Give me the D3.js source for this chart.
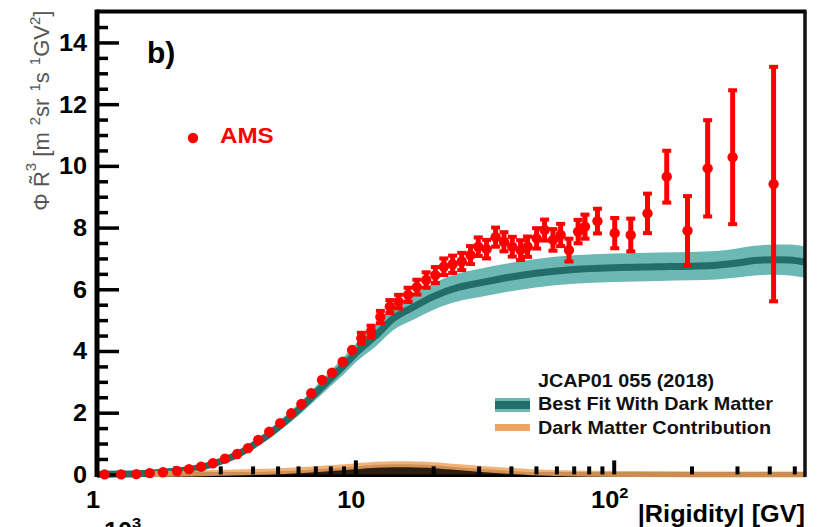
<!DOCTYPE html>
<html>
<head>
<meta charset="utf-8">
<script src="https://cdn.jsdelivr.net/npm/d3@7/dist/d3.min.js"></script>
<style>
  html, body { margin: 0; padding: 0; background: #fff; }
  svg { display: block; }
  text { font-family: "Liberation Sans", Arial, Helvetica, sans-serif; }
</style>
</head>
<body>
<svg id="chart" width="819" height="527"></svg>
<script>
// AMS measurement: rigidity bin centres [GV], flux x R^3 and its uncertainty
const ptsR = [1.07, 1.24, 1.42, 1.60, 1.80, 2.04, 2.27, 2.53, 2.81, 3.13, 3.49, 3.84, 4.21, 4.64, 5.12, 5.65,
  6.18, 6.75, 7.43, 8.12, 8.93, 9.71, 10.55, 11.5, 12.5, 13.6, 14.7, 16.0, 17.3, 18.8, 20.4, 22.0, 23.8, 25.8,
  27.9, 29.9, 32.2, 34.9, 37.6, 40.5, 43.6, 46.4, 50.3, 54.0, 58.2, 62.3, 67.1, 72.8, 77.4, 86.5, 100.9, 116.4,
  135.1, 160.4, 193, 231, 288.6, 415.7];
const ptsV = [0.00, 0.00, 0.01, 0.04, 0.07, 0.11, 0.17, 0.25, 0.36, 0.51, 0.66, 0.85, 1.12, 1.38, 1.66, 1.98,
  2.28, 2.63, 3.06, 3.30, 3.65, 4.03, 4.41, 4.63, 5.10, 5.44, 5.60, 5.82, 6.07, 6.30, 6.46, 6.73, 6.81, 6.90,
  7.11, 7.38, 7.30, 7.69, 7.54, 7.38, 7.27, 7.38, 7.65, 7.92, 7.60, 7.76, 7.27, 7.87, 8.03, 8.21, 7.82, 7.76,
  8.46, 9.65, 7.90, 9.92, 10.28, 9.41];
const ptsE = [0.02, 0.02, 0.02, 0.02, 0.02, 0.02, 0.02, 0.02, 0.02, 0.02, 0.02, 0.02, 0.02, 0.02, 0.02, 0.02,
  0.05, 0.06, 0.08, 0.10, 0.12, 0.14, 0.18, 0.19, 0.20, 0.21, 0.22, 0.23, 0.24, 0.25, 0.26, 0.27, 0.28, 0.28,
  0.29, 0.30, 0.30, 0.31, 0.31, 0.32, 0.32, 0.33, 0.33, 0.34, 0.35, 0.36, 0.37, 0.38, 0.39, 0.40, 0.49, 0.53,
  0.64, 0.84, 1.12, 1.56, 2.17, 3.80];

// Best fit with dark matter: central curve and uncertainty band
const fitR   = [1, 1.2, 1.5, 2, 2.5, 3, 3.5, 4, 4.5, 5, 6, 7, 8, 9, 10, 12, 14, 17, 20, 25, 30, 40, 50, 70, 100,
  150, 200, 250, 300, 350, 420, 480, 550];
const fitMid = [0, 0.01, 0.03, 0.10, 0.22, 0.42, 0.65, 0.93, 1.22, 1.52, 2.08, 2.62, 3.10, 3.52, 3.92, 4.50,
  5.05, 5.45, 5.76, 6.06, 6.20, 6.40, 6.52, 6.64, 6.70, 6.73, 6.75, 6.78, 6.85, 6.93, 6.96, 6.95, 6.88];
const fitLo  = [0, 0, 0, 0.06, 0.16, 0.34, 0.55, 0.81, 1.08, 1.36, 1.89, 2.40, 2.85, 3.24, 3.62, 4.15, 4.67,
  5.04, 5.33, 5.61, 5.74, 5.94, 6.06, 6.18, 6.24, 6.27, 6.29, 6.32, 6.38, 6.45, 6.47, 6.45, 6.38];
const fitHi  = [0.02, 0.03, 0.06, 0.14, 0.28, 0.50, 0.75, 1.05, 1.36, 1.68, 2.27, 2.84, 3.35, 3.80, 4.22, 4.85,
  5.43, 5.86, 6.19, 6.51, 6.66, 6.86, 6.98, 7.10, 7.16, 7.19, 7.21, 7.24, 7.32, 7.41, 7.45, 7.45, 7.38];

// Dark matter contribution
const dmR = [1.55, 2, 3, 5, 7, 10, 12, 14, 16, 19, 23, 30, 40, 55, 80, 120, 200, 550];
const dmV = [0, 0.02, 0.05, 0.10, 0.17, 0.26, 0.31, 0.33, 0.33, 0.31, 0.26, 0.18, 0.11, 0.05, 0.02, 0.01, 0, 0];

// Axis ticks
const yMajor = [0, 2, 4, 6, 8, 10, 12, 14];
const yMinor = [0.5, 1, 1.5, 2.5, 3, 3.5, 4.5, 5, 5.5, 6.5, 7, 7.5, 8.5, 9, 9.5, 10.5, 11, 11.5, 12.5, 13, 13.5, 14.5];
const xMajor = [10, 100];
const xMinor = [2, 3, 4, 5, 6, 7, 8, 9, 20, 30, 40, 50, 60, 70, 80, 90, 200, 300, 400, 500];
const xLabels = [{v: 1, base: "1", exp: ""}, {v: 10, base: "10", exp: ""}, {v: 100, base: "10", exp: "2"}];

const legendTitle = "JCAP01 055 (2018)";
const legendFit = "Best Fit With Dark Matter";
const legendDM = "Dark Matter Contribution";

// ---------------------------------------------------------------
const pL = 97, pR = 805, pT = 11.6, pB = 474.4;
const x = d3.scaleLog().domain([1, 550]).range([pL, pR]);
const y = d3.scaleLinear().domain([0, 15]).range([pB, pT]);
const SX = 1.1;   // horizontal glyph stretch of the labels

const svg = d3.select("#chart");
svg.append("defs").append("clipPath").attr("id", "plot")
  .append("rect").attr("x", pL).attr("y", pT).attr("width", pR - pL).attr("height", pB - pT + 6);

// x axis base line
svg.append("line").attr("x1", pL).attr("x2", pR).attr("y1", pB).attr("y2", pB)
  .attr("stroke", "#000").attr("stroke-width", 5);

const gPlot = svg.append("g").attr("clip-path", "url(#plot)");

// fit band + central line
const fit = fitR.map((r, i) => ({r, mid: fitMid[i], lo: fitLo[i], hi: fitHi[i]}));
gPlot.append("path").datum(fit)
  .attr("d", d3.area().x(d => x(d.r)).y0(d => y(d.lo)).y1(d => y(d.hi)).curve(d3.curveMonotoneX))
  .attr("fill", "#6cb8b5");
gPlot.append("path").datum(fit)
  .attr("d", d3.line().x(d => x(d.r)).y(d => y(d.mid)).curve(d3.curveMonotoneX))
  .attr("fill", "none").attr("stroke", "#236e69").attr("stroke-width", 7);

// dark matter contribution
const dm = dmR.map((r, i) => ({r, v: dmV[i]}));
gPlot.append("path").datum(dm)
  .attr("d", d3.area().x(d => x(d.r)).y0(y(0)).y1(d => y(d.v)).curve(d3.curveMonotoneX))
  .attr("fill", "#2b1d10");
gPlot.append("path").datum(dm)
  .attr("d", d3.line().x(d => x(d.r)).y(d => y(d.v)).curve(d3.curveMonotoneX))
  .attr("fill", "none").attr("stroke", "#eea560").attr("stroke-width", 6).attr("stroke-opacity", 0.85);

// x ticks (pointing up into the frame)
function noDomain(g) { g.select(".domain").remove(); }
svg.append("g").attr("transform", `translate(0,${pB})`)
  .call(d3.axisTop(x).tickValues(xMinor).tickSize(8).tickFormat(""))
  .call(noDomain).selectAll("line").attr("stroke", "#000").attr("stroke-width", 4);
svg.append("g").attr("transform", `translate(0,${pB})`)
  .call(d3.axisTop(x).tickValues(xMajor).tickSize(14).tickFormat(""))
  .call(noDomain).selectAll("line").attr("stroke", "#000").attr("stroke-width", 4);

// y ticks (pointing right into the frame)
svg.append("g").attr("transform", `translate(${pL},0)`)
  .call(d3.axisRight(y).tickValues(yMinor).tickSize(11).tickFormat(""))
  .call(noDomain).selectAll("line").attr("stroke", "#000").attr("stroke-width", 3.5);
svg.append("g").attr("transform", `translate(${pL},0)`)
  .call(d3.axisRight(y).tickValues(yMajor).tickSize(22).tickFormat(""))
  .call(noDomain).selectAll("line").attr("stroke", "#000").attr("stroke-width", 3.5);

// frame
svg.append("line").attr("x1", pL).attr("x2", pR + 1.5).attr("y1", pT).attr("y2", pT)
  .attr("stroke", "#000").attr("stroke-width", 4);
svg.append("line").attr("x1", pR).attr("x2", pR).attr("y1", pT).attr("y2", pB + 2.5)
  .attr("stroke", "#111").attr("stroke-width", 3.5);
svg.append("line").attr("x1", pL).attr("x2", pL).attr("y1", pT - 2).attr("y2", pB + 2.5)
  .attr("stroke", "#000").attr("stroke-width", 5);

// AMS points with error bars
const pts = ptsR.map((r, i) => ({r, v: ptsV[i], e: ptsE[i]}));
const gp = svg.append("g");
gp.selectAll("line.err").data(pts).join("line").attr("class", "err")
  .attr("x1", d => x(d.r)).attr("x2", d => x(d.r))
  .attr("y1", d => y(d.v - d.e)).attr("y2", d => y(d.v + d.e))
  .attr("stroke", "#ff0000").attr("stroke-width", 5);
gp.selectAll("rect.capHi").data(pts.filter(d => d.e >= 0.15)).join("rect").attr("class", "capHi")
  .attr("x", d => x(d.r) - 4.5).attr("y", d => y(d.v + d.e) - 2).attr("width", 9).attr("height", 4)
  .attr("fill", "#ff0000");
gp.selectAll("rect.capLo").data(pts.filter(d => d.e >= 0.15)).join("rect").attr("class", "capLo")
  .attr("x", d => x(d.r) - 4.5).attr("y", d => y(d.v - d.e) - 2).attr("width", 9).attr("height", 4)
  .attr("fill", "#ff0000");
gp.selectAll("circle").data(pts).join("circle")
  .attr("cx", d => x(d.r)).attr("cy", d => y(d.v)).attr("r", 5.2).attr("fill", "#ff0000");

// tick labels
function stretched(g, px, py, anchor) {
  return g.append("g").attr("transform", `translate(${px},${py}) scale(${SX},1)`)
    .append("text").attr("text-anchor", anchor);
}
const gLab = svg.append("g").attr("font-weight", "bold").attr("fill", "#000");
yMajor.forEach(v => {
  stretched(gLab, pL - 10, y(v) + 8.5, "end").attr("font-size", 23).text(v);
});
xLabels.forEach(d => {
  const t = stretched(gLab, x(d.v) - 4, 508, "middle").attr("font-size", 23);
  t.append("tspan").text(d.base);
  if (d.exp) t.append("tspan").attr("font-size", 15).attr("dy", -10).text(d.exp);
});
// multiplier below the x axis
{
  const t = stretched(gLab, 104, 539, "start").attr("font-size", 23);
  t.append("tspan").text("10");
  t.append("tspan").attr("font-size", 15).attr("dy", -11).text("3");
}

// axis titles
stretched(gLab, pR, 522, "end").attr("font-size", 23).text("|Rigidity| [GV]");

const yt = svg.append("text").attr("transform", `translate(49,${pT - 1}) rotate(-90)`)
  .attr("text-anchor", "end").attr("font-size", 22).attr("fill", "#555");
yt.append("tspan").text("\u03A6 R\u0303");
yt.append("tspan").attr("font-size", 15).attr("dy", -13).text("3");
yt.append("tspan").attr("dy", 13).text(" [m");
yt.append("tspan").attr("font-size", 15).attr("dy", -9).attr("dx", 7).text("2");
yt.append("tspan").attr("dy", 9).text("sr");
yt.append("tspan").attr("font-size", 15).attr("dy", -9).attr("dx", 7).text("1");
yt.append("tspan").attr("dy", 9).text("s");
yt.append("tspan").attr("font-size", 15).attr("dy", -9).attr("dx", 7).text("1");
yt.append("tspan").attr("dy", 9).text("GV");
yt.append("tspan").attr("font-size", 15).attr("dy", -9).text("2");
yt.append("tspan").attr("dy", 9).text("]");

// panel tag
svg.append("text").attr("x", 147).attr("y", 63).attr("font-size", 30).attr("font-weight", "bold")
  .attr("fill", "#000").text("b)");

// AMS legend entry
svg.append("circle").attr("cx", 193).attr("cy", 138).attr("r", 5.2).attr("fill", "#ff0000");
stretched(svg, 220, 143, "start").attr("font-size", 22).attr("font-weight", "bold")
  .attr("fill", "#ff0000").text("AMS");

// model legend
const gLeg = svg.append("g");
stretched(gLeg, 538, 387, "start").attr("font-size", 18).attr("font-weight", "bold").attr("fill", "#111").text(legendTitle);
gLeg.append("rect").attr("x", 495).attr("y", 398).attr("width", 35).attr("height", 14).attr("fill", "#6cb8b5");
gLeg.append("rect").attr("x", 495).attr("y", 401).attr("width", 35).attr("height", 8).attr("fill", "#236e69");
stretched(gLeg, 538, 410, "start").attr("font-size", 18).attr("font-weight", "bold").attr("fill", "#111").text(legendFit);
gLeg.append("rect").attr("x", 495).attr("y", 424).attr("width", 35).attr("height", 7).attr("fill", "#eea560");
stretched(gLeg, 538, 433.5, "start").attr("font-size", 18).attr("font-weight", "bold").attr("fill", "#111").text(legendDM);
</script>
</body>
</html>
